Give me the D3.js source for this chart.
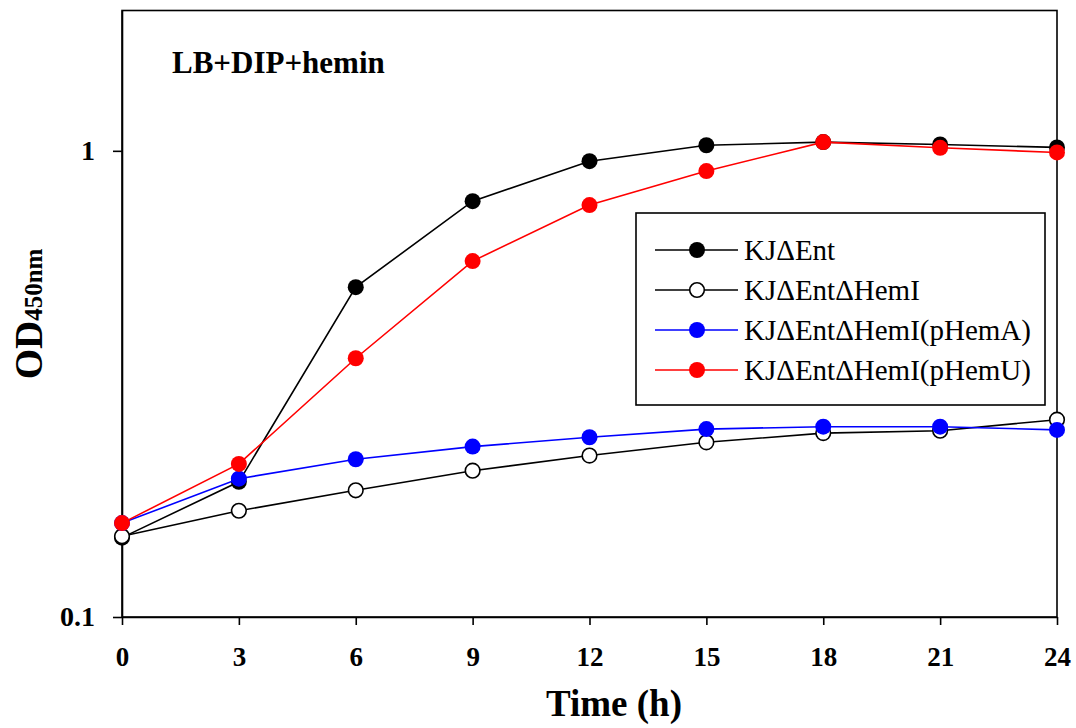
<!DOCTYPE html>
<html>
<head>
<meta charset="utf-8">
<script src="https://cdn.jsdelivr.net/npm/d3@7/dist/d3.min.js"></script>
<style>
  html, body { margin: 0; padding: 0; background: #fff; }
  svg { display: block; font-family: "Liberation Serif", "Times New Roman", serif; }
</style>
</head>
<body>
<svg id="chart" width="1076" height="728"></svg>
<script>
// ---- data ----
const times = [0, 3, 6, 9, 12, 15, 18, 21, 24];
const xTicks = [0, 3, 6, 9, 12, 15, 18, 21, 24];
const yTicks = [0.1, 1];
const yTickLabels = ["0.1", "1"];
const seriesNames = ["KJΔEnt", "KJΔEntΔHemI", "KJΔEntΔHemI(pHemA)", "KJΔEntΔHemI(pHemU)"];
const kjEnt      = [0.148, 0.195, 0.510, 0.780, 0.950, 1.028, 1.044, 1.032, 1.017];
const kjEntHemI  = [0.149, 0.169, 0.187, 0.206, 0.222, 0.237, 0.248, 0.251, 0.265];
const kjPHemA    = [0.159, 0.198, 0.218, 0.232, 0.243, 0.253, 0.256, 0.256, 0.252];
const kjPHemU    = [0.159, 0.213, 0.359, 0.580, 0.765, 0.905, 1.044, 1.015, 0.992];
const lineColors = ["#000000", "#000000", "#0000ff", "#ff0000"];
const fillColors = ["#000000", "#ffffff", "#0000ff", "#ff0000"];

const seriesValues = [kjEnt, kjEntHemI, kjPHemA, kjPHemU];

// ---- layout ----
const svg = d3.select("#chart");
const pLeft = 122, pRight = 1057, pTop = 10.5, pBottom = 617;

const x = d3.scaleLinear().domain([0, 24]).range([pLeft, pRight]);
const y = d3.scaleLog().domain([0.1, 2]).range([pBottom, pTop]);

// frame
svg.append("rect")
  .attr("x", pLeft).attr("y", pTop)
  .attr("width", pRight - pLeft).attr("height", pBottom - pTop)
  .attr("fill", "none").attr("stroke", "#000").attr("stroke-width", 1.6);

// x axis
const xAxis = d3.axisBottom(x).tickValues(xTicks).tickSize(8).tickSizeOuter(0).tickPadding(22)
  .tickFormat(d3.format("d"));
const gx = svg.append("g").attr("transform", `translate(0,${pBottom})`).call(xAxis);
gx.select(".domain").attr("stroke-width", 1.6);
gx.selectAll(".tick line").attr("stroke-width", 1.6);
gx.selectAll(".tick text")
  .attr("font-family", "Liberation Serif").attr("font-weight", "bold")
  .attr("font-size", 27).attr("fill", "#000");

// y axis
const yAxis = d3.axisLeft(y).tickValues(yTicks).tickSize(9).tickSizeOuter(0).tickPadding(18)
  .tickFormat((d, i) => yTickLabels[i]);
const gy = svg.append("g").attr("transform", `translate(${pLeft},0)`).call(yAxis);
gy.select(".domain").attr("stroke-width", 1.6);
gy.selectAll(".tick line").attr("stroke-width", 1.6);
gy.selectAll(".tick text")
  .attr("font-family", "Liberation Serif").attr("font-weight", "bold")
  .attr("font-size", 28).attr("fill", "#000");

// axis titles
svg.append("text")
  .attr("x", 614).attr("y", 716)
  .attr("text-anchor", "middle")
  .attr("font-weight", "bold").attr("font-size", 37)
  .text("Time (h)");

const yl = svg.append("text")
  .attr("transform", "translate(42,314) rotate(-90)")
  .attr("text-anchor", "middle")
  .attr("font-weight", "bold");
yl.append("tspan").attr("font-size", 39).text("OD");
yl.append("tspan").attr("font-size", 25).text("450nm");

// panel title
svg.append("text")
  .attr("x", 172).attr("y", 73)
  .attr("font-weight", "bold").attr("font-size", 31)
  .text("LB+DIP+hemin");

// series
const line = d3.line().x((d, i) => x(times[i])).y(d => y(d));
seriesValues.forEach((vals, si) => {
  const g = svg.append("g");
  g.append("path").datum(vals)
    .attr("d", line)
    .attr("fill", "none").attr("stroke", lineColors[si]).attr("stroke-width", 1.6);
  g.selectAll("circle").data(vals).join("circle")
    .attr("cx", (d, i) => x(times[i]))
    .attr("cy", d => y(d))
    .attr("r", si === 1 ? 7.3 : 8)
    .attr("fill", fillColors[si])
    .attr("stroke", si === 1 ? "#000" : "none")
    .attr("stroke-width", 1.6);
});

// legend
const lg = svg.append("g");
lg.append("rect")
  .attr("x", 636).attr("y", 213).attr("width", 409).attr("height", 192)
  .attr("fill", "#fff").attr("stroke", "#000").attr("stroke-width", 1.6);
seriesNames.forEach((name, i) => {
  const cy = 250 + i * 40;
  lg.append("line")
    .attr("x1", 655).attr("x2", 738).attr("y1", cy).attr("y2", cy)
    .attr("stroke", lineColors[i]).attr("stroke-width", 1.6);
  lg.append("circle")
    .attr("cx", 697).attr("cy", cy).attr("r", i === 1 ? 7.3 : 8)
    .attr("fill", fillColors[i])
    .attr("stroke", i === 1 ? "#000" : "none").attr("stroke-width", 1.6);
  lg.append("text")
    .attr("x", 744).attr("y", cy + 10)
    .attr("font-size", 29).attr("fill", "#000")
    .text(name);
});
</script>
</body>
</html>
